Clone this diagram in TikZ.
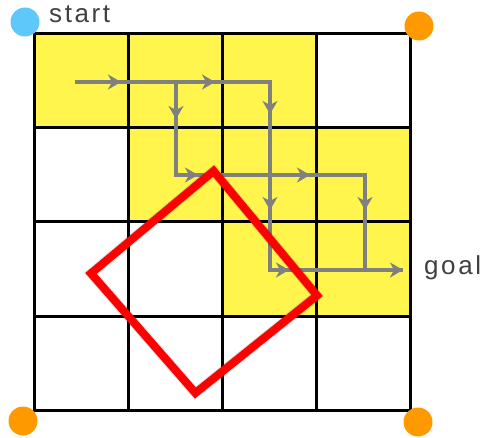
\documentclass[tikz,border=0pt]{standalone}
\usepackage{fontspec}
\setmainfont{Liberation Sans}
\newfontfamily\labelfont[LetterSpace=10]{Liberation Sans}
\usetikzlibrary{arrows.meta}
\definecolor{cellyellow}{RGB}{255,245,77}
\definecolor{pathgray}{RGB}{128,128,128}
\definecolor{startblue}{RGB}{95,200,250}
\definecolor{cornerorange}{RGB}{255,153,0}
\definecolor{labelgray}{RGB}{64,64,64}
\definecolor{boxred}{RGB}{255,0,0}
\tikzset{
  cell/.style={fill=cellyellow, draw=none},
  gridline/.style={draw=black, line width=3pt},
  route/.style={draw=pathgray, line width=4.5pt},
  tipseg/.style={draw=pathgray, line width=4.5pt, -{Stealth[length=13pt,width=15pt,inset=4pt]}},
  box/.style={draw=boxred, line width=8pt, line join=miter},
  boxshadow/.style={draw=black, line width=10pt, line join=miter, opacity=0.12},
  dot/.style={circle, minimum size=29pt, inner sep=0pt},
  lbl/.style={inner sep=0pt, text=labelgray, font=\labelfont\fontsize{26}{26}\selectfont},
}
\begin{document}
\begin{tikzpicture}[x=1pt,y=-1pt]
\useasboundingbox (0,0) rectangle (487,438);
% yellow cells
\foreach \c/\r in {0/0,1/0,2/0,1/1,2/1,3/1,2/2,3/2}
  \fill[cell] ({34+94*\c},{34+94*\r}) rectangle ++(94,94);
% grid
\foreach \i in {0,...,4} {
  \draw[gridline] ({34+94*\i},34) -- ({34+94*\i},410);
  \draw[gridline] (34,{34+94*\i}) -- (410,{34+94*\i});
}
\draw[gridline, line cap=rect] (34,34) rectangle (410,410);
% route coordinates
\coordinate (p0) at (75,82);
\coordinate (p1) at (176,82);
\coordinate (p2) at (270,82);
\coordinate (p3) at (176,175);
\coordinate (p4) at (270,175);
\coordinate (p5) at (365,175);
\coordinate (p6) at (270,270);
\coordinate (p7) at (365,270);
\coordinate (goalend) at (403,270);
\draw[route] (p0) -- (p2) -- (p6) -- (goalend);
\draw[route] (p1) -- (p3) -- (p5) -- (p7);
% arrow tips along the routes
\draw[tipseg] (p0) -- (121,82);
\draw[tipseg] (p1) -- (215,82);
\draw[tipseg] (p1) -- (176,119);
\draw[tipseg] (p3) -- (198,175);
\draw[tipseg] (p4) -- (310,175);
\draw[tipseg] (p2) -- (270,114);
\draw[tipseg] (p4) -- (270,210);
\draw[tipseg] (p5) -- (365,210);
\draw[tipseg] (p6) -- (289,270);
\draw[tipseg] (p7) -- (goalend);
% red rectangle with soft shadow
\coordinate (rt) at (213.6,171);
\coordinate (rr) at (317,295.5);
\coordinate (rb) at (195.4,393);
\coordinate (rl) at (91,273.4);
\begin{scope}[shift={(2,3)}]
  \draw[boxshadow] (rt) -- (rr) -- (rb) -- (rl) -- cycle;
\end{scope}
\draw[box] (rt) -- (rr) -- (rb) -- (rl) -- cycle;
% corner dots
\node[dot, fill=startblue] (startdot) at (25,22) {};
\node[dot, fill=cornerorange] (dottr) at (419,26) {};
\node[dot, fill=cornerorange] (dotbl) at (23,421) {};
\node[dot, fill=cornerorange] (dotbr) at (418,422) {};
% labels
\node[lbl, anchor=base west] (startlbl) at (49,23) {start};
\node[lbl, anchor=base west] (goallbl) at (424,275) {goal};
\end{tikzpicture}
\end{document}
